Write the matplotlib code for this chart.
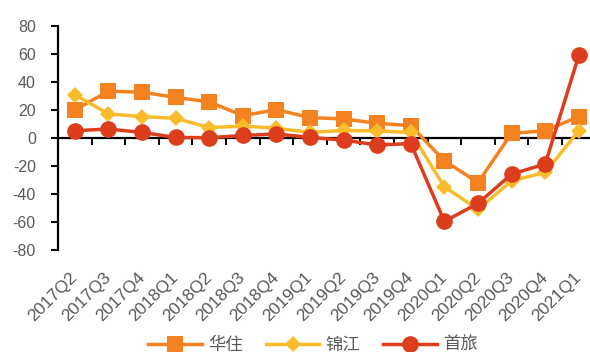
import matplotlib
matplotlib.use("Agg")
import matplotlib.pyplot as plt
import numpy as np

plt.rcParams['font.family'] = ['Liberation Sans', 'Noto Sans CJK SC', 'DejaVu Sans']

quarters = ['2017Q2', '2017Q3', '2017Q4', '2018Q1', '2018Q2', '2018Q3', '2018Q4',
            '2019Q1', '2019Q2', '2019Q3', '2019Q4', '2020Q1', '2020Q2', '2020Q3',
            '2020Q4', '2021Q1']
huazhu = [20, 33.4, 32.7, 29, 25.8, 16, 20.2, 14.6, 13.6, 10.5, 8.8, -16.3, -31.8, 3.3, 5.2, 15.3]
jinjiang = [31, 17.2, 15.3, 14, 7.5, 8.5, 7, 4, 5.4, 5, 4, -34.9, -50.9, -30.6, -24.6, 5.2]
shoulv = [5.2, 6.4, 4, 0.4, 0.2, 1.8, 2.9, 0.4, -1.5, -5, -4, -59.6, -46.7, -25.8, -18.6, 59]
yticks = [-80, -60, -40, -20, 0, 20, 40, 60, 80]

names = ['华住', '锦江', '首旅']
colors = ['#F58220', '#FBBC2C', '#DC3D1C']
markers = ['s', 'D', 'o']
msizes = [12, 8.4, 12]

fig = plt.figure(figsize=(5.9, 3.52), dpi=100)
ax = fig.add_axes([58 / 590, 102 / 352, 537.6 / 590, 224 / 352])

x = np.arange(len(quarters))
for vals, name, c, m, ms in zip([huazhu, jinjiang, shoulv], names, colors, markers, msizes):
    ax.plot(x, vals, color=c, marker=m, markersize=ms, linewidth=2.5,
            markeredgewidth=0, label=name, clip_on=False)

ax.set_xlim(-0.5, len(quarters) - 0.5)
ax.set_ylim(-80, 80)
ax.set_yticks(yticks)
ax.set_yticklabels([str(v) for v in yticks])

for s in ['top', 'right', 'bottom']:
    ax.spines[s].set_visible(False)
ax.spines['left'].set_linewidth(1.6)
ax.tick_params(axis='y', direction='out', length=5, width=1.4, pad=11,
               labelsize=11.5, labelcolor='#595959')

# Category labels along the bottom, no tick marks
ax.set_xticks(x)
ax.set_xticklabels(quarters, rotation=45, ha='right', va='center', rotation_mode='anchor')
ax.tick_params(axis='x', length=0, pad=18, labelsize=12.5, labelcolor='#595959')

# Category axis line at zero with boundary ticks pointing down
sec = ax.secondary_xaxis(0.5)
sec.xaxis.set_ticks_position('bottom')
sec.set_xticks(np.arange(len(quarters) + 1) - 0.5)
sec.set_xticklabels([])
for s in sec.spines.values():
    s.set_linewidth(1.6)
sec.tick_params(axis='x', direction='out', length=5, width=1.4)

leg = fig.legend(loc='center', bbox_to_anchor=(313 / 590, 1 - 345 / 352), ncol=3, frameon=False,
                 handlelength=3.1, columnspacing=1.3, handletextpad=0.35,
                 prop={'size': 12.5})
for t in leg.get_texts():
    t.set_color('#595959')

fig.savefig('out.png', dpi=100)
